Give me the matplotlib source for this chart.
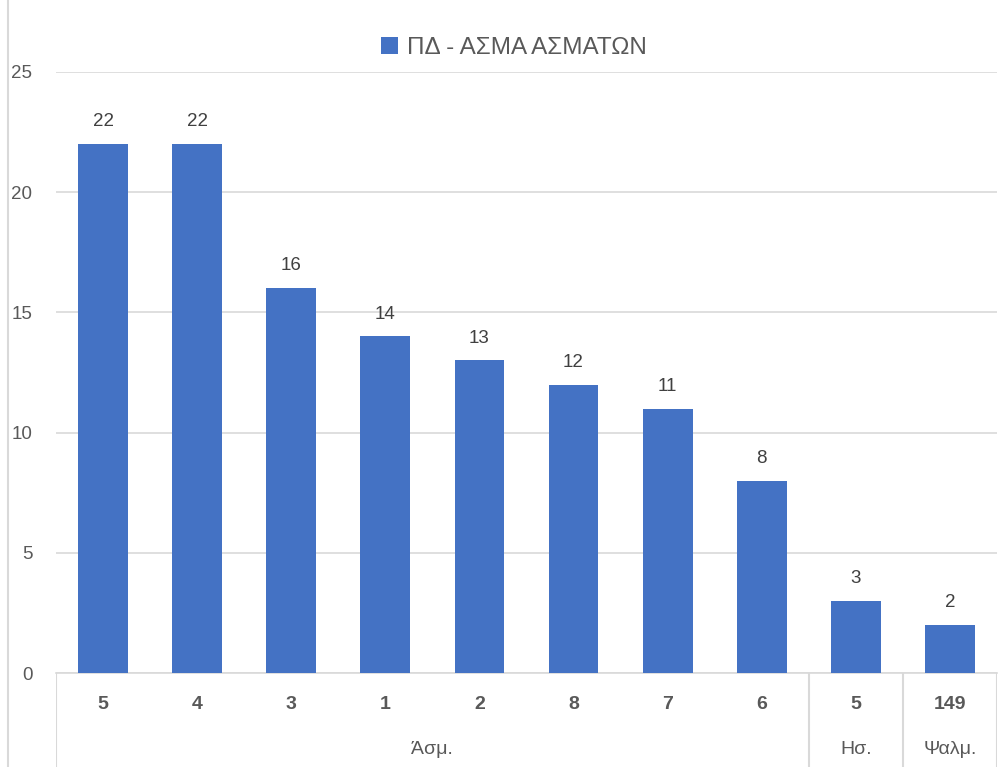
import matplotlib
matplotlib.use("Agg")
import matplotlib.pyplot as plt
from matplotlib.lines import Line2D

# data
chapters = ["5", "4", "3", "1", "2", "8", "7", "6", "5", "149"]
counts = [22, 22, 16, 14, 13, 12, 11, 8, 3, 2]
books = ["Άσμ.", "Ησ.", "Ψαλμ."]
book_sizes = [8, 1, 1]
series_name = "ΠΔ - ΑΣΜΑ ΑΣΜΑΤΩΝ"

bar_color = "#4472C4"
grid_color = "#D9D9D9"
text_color = "#595959"
plt.rcParams["font.family"] = ["Liberation Sans", "DejaVu Sans"]

W, H = 998, 767
fig = plt.figure(figsize=(W / 100, H / 100), dpi=100)

x0, x1 = 56, 997
y_top, y_zero = 72, 673
ax = fig.add_axes([x0 / W, 1 - y_zero / H, (x1 - x0) / W, (y_zero - y_top) / H])
xs = range(len(counts))
bars = ax.bar(xs, counts, width=0.53, color=bar_color, label=series_name, zorder=3)
ax.bar_label(bars, padding=10, fontsize=13.5, color="#404040")
ax.set_xlim(-0.5, len(counts) - 0.5)
ax.set_ylim(0, 25)
ax.set_yticks(range(0, 26, 5))
ax.yaxis.grid(True, color=grid_color, linewidth=1.2, zorder=0)
ax.tick_params(axis="y", length=0, labelsize=13.5, labelcolor=text_color, pad=17)
ax.set_xticks([])
for s in ["top", "right", "left"]:
    ax.spines[s].set_visible(False)
ax.spines["bottom"].set_color(grid_color)
ax.spines["bottom"].set_linewidth(1.2)

# multi-level category axis
cax = fig.add_axes([x0 / W, 0, (x1 - x0) / W, (H - y_zero) / H])
cax.set_xlim(-0.5, len(counts) - 0.5)
cax.set_ylim(1, 0)
cax.axis("off")
for i, c in enumerate(chapters):
    cax.text(i, 0.34, c, ha="center", va="center", fontsize=14,
             fontweight="bold", color=text_color)
start = -0.5
cax.axvline(start, color=grid_color, linewidth=1.5)
for b, n in zip(books, book_sizes):
    end = start + n
    cax.text((start + end) / 2, 0.81, b, ha="center", va="center",
             fontsize=14, color=text_color)
    cax.axvline(end, color=grid_color, linewidth=1.5)
    start = end

# chart border on the left
fig.add_artist(Line2D([8 / W, 8 / W], [0, 1], color=grid_color, linewidth=1.5))

fig.legend(handles=[bars], labels=[series_name], loc="center",
           bbox_to_anchor=(0.515, 1 - 48 / H), frameon=False, fontsize=17.5,
           labelcolor=text_color, handlelength=0.7, handleheight=0.7,
           handletextpad=0.4)

fig.savefig("out.png", dpi=100, facecolor="white")
